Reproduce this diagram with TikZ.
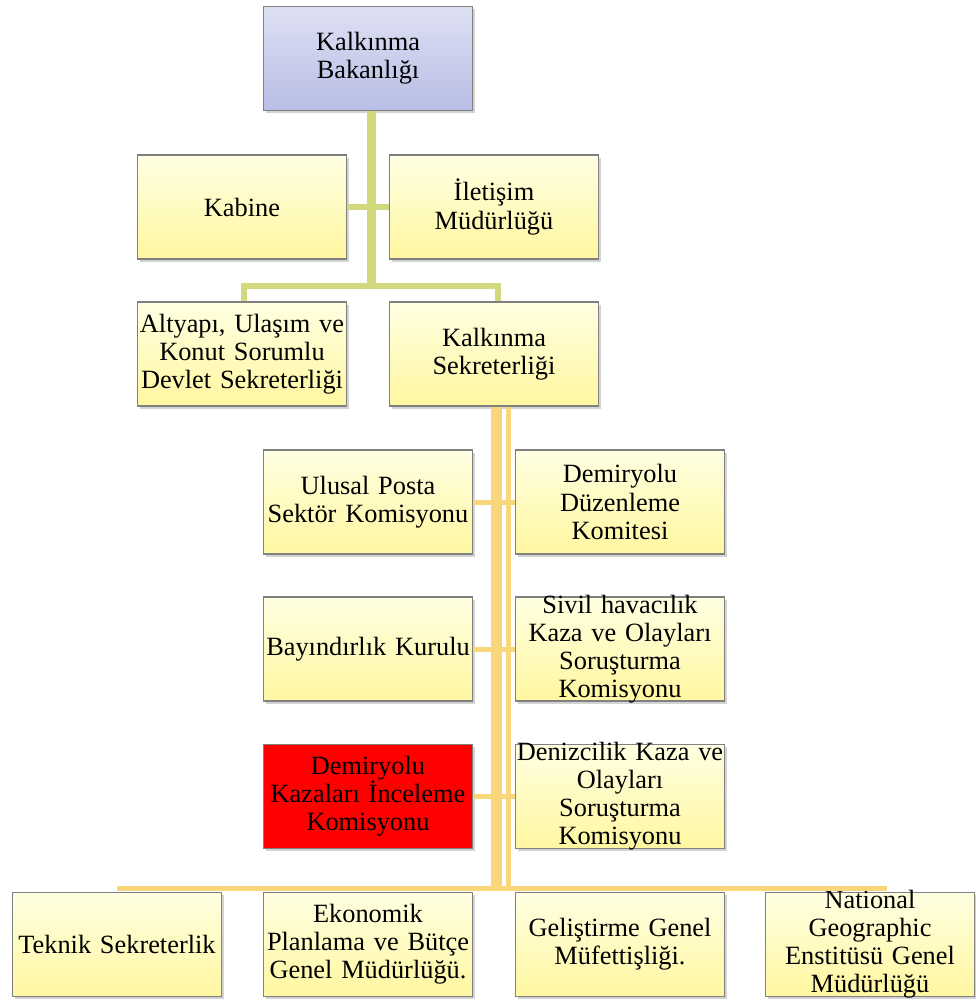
\documentclass[tikz,border=0pt]{standalone}
\usepackage{fontspec}
\setmainfont{Liberation Serif}
\usetikzlibrary{shadows}

\definecolor{yesil}{RGB}{209,217,124}
\definecolor{turuncu}{RGB}{250,214,122}
\definecolor{sariust}{RGB}{255,255,226}
\definecolor{sarialt}{RGB}{255,247,160}
\definecolor{lavust}{RGB}{222,224,243}
\definecolor{lavalt}{RGB}{184,190,230}
\definecolor{kenar}{RGB}{128,128,128}

\tikzset{
  birim/.style={draw=kenar, line width=0.6pt, top color=sariust, bottom color=sarialt,
    minimum width=4.18cm, minimum height=2.08cm, text width=4.1cm, inner xsep=0.04cm,
    inner ysep=0pt, align=center, font=\fontsize{15}{16}\selectfont,
    drop shadow={opacity=0.35, shadow xshift=1.6pt, shadow yshift=-1.6pt}},
  bakanlik/.style={birim, top color=lavust, bottom color=lavalt},
  kirmizi/.style={birim, top color=red, bottom color=red},
  yazi/.style={text width=4.6cm, inner sep=0pt, align=center, font=\fontsize{15}{16}\selectfont},
  yesilhat/.style={draw=yesil, line width=0.12cm},
  turuncuhat/.style={draw=turuncu, line width=0.1cm},
}

\begin{document}
\begin{tikzpicture}[x=0.02cm, y=-0.02cm]
\useasboundingbox (0,0) rectangle (975,1001);

% ust kisim
\node[bakanlik] (bak) at (368,58.5) {Kalkınma\\Bakanlığı};
\node[birim] (kab) at (242,207) {Kabine};
\node[birim] (ilet) at (494,207) {İletişim\\Müdürlüğü};
\node[birim] (alt) at (242,354) {Altyapı, Ulaşım ve\\Konut Sorumlu\\Devlet Sekreterliği};
\node[birim] (sek) at (494,354) {Kalkınma\\Sekreterliği};

% sekreterlige bagli birimler
\node[birim] (ulu) at (368,502) {Ulusal Posta\\Sektör Komisyonu};
\node[birim] (dde) at (620,502) {Demiryolu\\Düzenleme\\Komitesi};
\node[birim] (bay) at (368,649) {Bayındırlık Kurulu};
\node[birim] (siv) at (620,649) {};
\node[yazi] (sivt) at (siv.center) {Sivil havacılık\\Kaza ve Olayları\\Soruşturma\\Komisyonu};
\node[kirmizi] (dki) at (368,796.5) {Demiryolu\\Kazaları İnceleme\\Komisyonu};
\node[birim] (den) at (620,796.5) {};
\node[yazi] (dent) at (den.center) {Denizcilik Kaza ve\\Olayları\\Soruşturma\\Komisyonu};

% alt sira
\node[birim] (tek) at (117,944.5) {Teknik Sekreterlik};
\node[birim] (eko) at (368,944.5) {Ekonomik\\Planlama ve Bütçe\\Genel Müdürlüğü.};
\node[birim] (gel) at (620,944.5) {Geliştirme Genel\\Müfettişliği.};
\node[birim] (nat) at (870,944.5) {};
\node[yazi] (natt) at (nat.center) {National\\Geographic\\Enstitüsü Genel\\Müdürlüğü};

% yesil baglantilar
\coordinate (gbus) at (371,286);
\coordinate (gsol) at (244,286);
\coordinate (gsag) at (498,286);
\draw[yesilhat, line width=0.18cm] (bak.south -| gbus) -- (gbus);
\draw[yesilhat] (kab.east) -- (ilet.west);
\draw[yesilhat] (alt.north -| gsol) -- (gsol) -- (gsag) -- (sek.north -| gsag);

% turuncu baglantilar
\coordinate (obus) at (496,888);
\draw[turuncuhat, line width=0.22cm] (sek.south -| obus) -- (obus);
\draw[turuncuhat] ([xshift=0.25cm]sek.south -| obus) -- ([xshift=0.25cm]obus);
\draw[turuncuhat] (ulu.east) -- (dde.west);
\draw[turuncuhat] (bay.east) -- (siv.west);
\draw[turuncuhat] (dki.east) -- (den.west);
\draw[turuncuhat] (tek.north |- obus) -- ([xshift=0.34cm]nat.north |- obus);

\end{tikzpicture}
\end{document}
